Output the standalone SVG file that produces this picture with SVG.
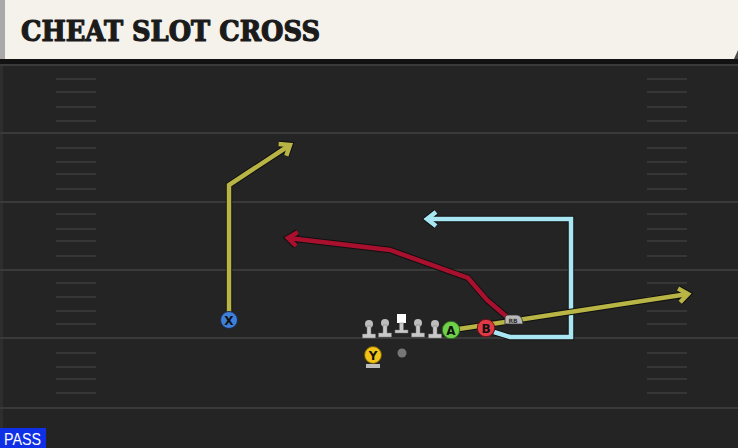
<svg xmlns="http://www.w3.org/2000/svg" width="738" height="448" viewBox="0 0 738 448">
<defs>
<style>
.yard{stroke:#3a3a3a;stroke-width:2}
.hash{stroke:#363636;stroke-width:2}
.outline{fill:none;stroke:#101010;stroke-width:6.5;stroke-linejoin:miter;stroke-linecap:butt}
.route{fill:none;stroke-width:4.5;stroke-linejoin:miter;stroke-linecap:butt}
.lbl{font-family:"DejaVu Sans","Liberation Sans",sans-serif;font-weight:bold;text-anchor:middle;fill:#111}
.ol{fill:#c9c9c9;stroke:#777;stroke-width:0.5}
</style>
<marker id="ahY" markerUnits="userSpaceOnUse" markerWidth="24" markerHeight="24" viewBox="-14 -12 24 24" refX="0" refY="0" orient="auto"><path d="M-9,-7 L0,0 L-9,7" fill="none" stroke="#b8b446" stroke-width="4.5"/></marker>
<marker id="ahR" markerUnits="userSpaceOnUse" markerWidth="24" markerHeight="24" viewBox="-14 -12 24 24" refX="0" refY="0" orient="auto"><path d="M-9,-7 L0,0 L-9,7" fill="none" stroke="#a8102e" stroke-width="4.5"/></marker>
<marker id="ahB" markerUnits="userSpaceOnUse" markerWidth="24" markerHeight="24" viewBox="-14 -12 24 24" refX="0" refY="0" orient="auto"><path d="M-9,-7 L0,0 L-9,7" fill="none" stroke="#a9e6f3" stroke-width="4.5"/></marker>
<marker id="ahK" markerUnits="userSpaceOnUse" markerWidth="26" markerHeight="26" viewBox="-15 -13 26 26" refX="0" refY="0" orient="auto"><path d="M-9,-7 L0,0 L-9,7" fill="none" stroke="#101010" stroke-width="6.5"/></marker>
</defs>

<!-- field -->
<rect x="0" y="0" width="738" height="448" fill="#242424"/>
<rect x="0" y="59" width="738" height="5" fill="#121212"/>
<rect x="0" y="64" width="3" height="384" fill="#2e2e2e"/>
<g id="yardlines">
<line class="yard" x1="0" y1="65" x2="738" y2="65"/>
<line class="yard" x1="0" y1="133" x2="738" y2="133"/>
<line class="yard" x1="0" y1="202" x2="738" y2="202"/>
<line class="yard" x1="0" y1="270" x2="738" y2="270"/>
<line class="yard" x1="0" y1="338" x2="738" y2="338"/>
<line class="yard" x1="0" y1="408" x2="738" y2="408"/>
</g>
<g id="hashes">
<path class="hash" d="M56 79H96M56 92H96M56 107H96M56 121H96M56 148H96M56 162H96M56 174H96M56 189H96M56 214H96M56 229H96M56 241H96M56 256H96M56 283H96M56 297H96M56 311H96M56 324H96M56 353H96M56 367H96M56 379H96M56 393H96"/>
<path class="hash" d="M647 79H687M647 92H687M647 107H687M647 121H687M647 148H687M647 162H687M647 174H687M647 189H687M647 214H687M647 229H687M647 241H687M647 256H687M647 283H687M647 297H687M647 311H687M647 324H687M647 353H687M647 367H687M647 379H687M647 393H687"/>
</g>

<!-- header -->
<g id="header">
<rect x="0" y="0" width="738" height="59" fill="#f5f2ec"/>
<path d="M738 50V59H734Z" fill="#4a4a4a"/>
<rect x="0" y="0" width="5" height="59" fill="#a9a9a9"/>
<text x="21" y="41" font-family="'DejaVu Serif','Liberation Serif',serif" font-weight="bold" font-size="27" fill="#1b1b1b" stroke="#1b1b1b" stroke-width="1.2" stroke-linejoin="round" textLength="299" lengthAdjust="spacingAndGlyphs">CHEAT SLOT CROSS</text>
</g>

<!-- connectors -->
<g id="routes">
<polyline class="outline" points="229,312 229,185 290,145" marker-end="url(#ahK)"/>
<polyline class="route" stroke="#b8b446" points="229,312 229,185 290,145" marker-end="url(#ahY)"/>
<polyline class="outline" points="507,317 487,300 468,278 390,250 288,238" marker-end="url(#ahK)"/>
<polyline class="route" stroke="#a8102e" points="507,317 487,300 468,278 390,250 288,238" marker-end="url(#ahR)"/>
<polyline class="outline" points="494,332 510,337 571,337 571,219 427,219" marker-end="url(#ahK)"/>
<polyline class="route" stroke="#a9e6f3" points="494,332 510,337 571,337 571,219 427,219" marker-end="url(#ahB)"/>
<polyline class="outline" points="452,330 688,294" marker-end="url(#ahK)"/>
<polyline class="route" stroke="#b8b446" points="452,330 688,294" marker-end="url(#ahY)"/>
</g>

<!-- players -->
<g id="X">
<circle cx="229" cy="320" r="8.5" fill="#3d7fd9" stroke="#1a2a50" stroke-width="1"/>
<text class="lbl" x="229" y="324.5" font-size="12">X</text>
</g>
<g id="RB">
<path d="M505 324V318Q505 315 508 315H517Q520 315 522 319L523 324Z" fill="#b9b9b9" stroke="#333" stroke-width="0.8"/>
<text x="513" y="322.5" font-family="'DejaVu Sans',sans-serif" font-size="6" font-weight="bold" text-anchor="middle" fill="#333">RB</text>
</g>
<g id="A">
<circle cx="451" cy="330" r="8.7" fill="#6fd14a" stroke="#2e6a1a" stroke-width="1"/>
<text class="lbl" x="451" y="334.5" font-size="12">A</text>
</g>
<g id="B">
<circle cx="486" cy="328" r="8.7" fill="#e03a46" stroke="#6a1018" stroke-width="1"/>
<text class="lbl" x="486" y="332.5" font-size="12">B</text>
</g>
<g id="OL1"><circle cx="369" cy="324" r="4" fill="#bdbdbd"/><path class="ol" d="M367 326H371V334H375.5V338H362.5V334H367Z"/></g>
<g id="OL2"><circle cx="385" cy="323" r="4" fill="#bdbdbd"/><path class="ol" d="M383 325H387V333H391.5V337H378.5V333H383Z"/></g>
<g id="C"><rect x="397" y="314" width="9" height="9" fill="#ffffff"/><path class="ol" d="M399.5 323H403.5V330H408V333H395V330H399.5Z"/></g>
<g id="OL4"><circle cx="418" cy="323" r="4" fill="#bdbdbd"/><path class="ol" d="M416 325H420V333H424.5V337H411.5V333H416Z"/></g>
<g id="OL5"><circle cx="435" cy="324" r="4" fill="#bdbdbd"/><path class="ol" d="M433 326H437V334H441.5V338H428.5V334H433Z"/></g>
<g id="Y">
<rect x="366" y="364" width="14" height="4" fill="#bdbdbd"/>
<circle cx="373" cy="355" r="8.5" fill="#f2c418" stroke="#6a5208" stroke-width="1"/>
<text class="lbl" x="373" y="359.5" font-size="12">Y</text>
</g>
<g id="QB"><circle cx="402" cy="353" r="4.5" fill="#777"/></g>

<g id="pass">
<rect x="0" y="428" width="46" height="20" fill="#1030e8"/>
<text x="4" y="445" font-family="'Liberation Sans',Arial,sans-serif" font-size="16" fill="#ffffff" textLength="37" lengthAdjust="spacingAndGlyphs">PASS</text>
</g>
</svg>
